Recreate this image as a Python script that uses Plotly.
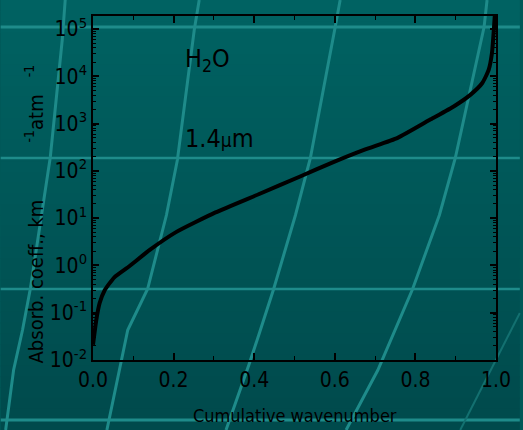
import plotly.graph_objects as go

# ---- data ----
cum_wavenumber = [0.0, 0.008, 0.0165, 0.029, 0.053, 0.090, 0.140, 0.205, 0.304, 0.411,
                  0.514, 0.592, 0.674, 0.756, 0.838, 0.896, 0.937, 0.966, 0.982, 0.990,
                  0.994, 0.997]
abs_coeff = [0.021, 0.069, 0.16, 0.30, 0.56, 0.96, 2.1, 5.0, 13.2, 32,
             76, 148, 282, 500, 1230, 2330, 4100, 7200, 13800, 31000,
             81000, 190000]

x_tick_vals = [0.0, 0.2, 0.4, 0.6, 0.8, 1.0]
x_tick_text = ["0.0", "0.2", "0.4", "0.6", "0.8", "1.0"]
y_tick_vals = [1e-2, 1e-1, 1e0, 1e1, 1e2, 1e3, 1e4, 1e5]
y_tick_text = ["10<sup>-2</sup>", "10<sup>-1</sup>", "10<sup>0</sup>", "10<sup>1</sup>",
               "10<sup>2</sup>", "10<sup>3</sup>", "10<sup>4</sup>", "10<sup>5</sup>"]

W, H = 523, 430
L, R, T, B = 93, 24, 16, 70
FONT = "DejaVu Sans Condensed, Liberation Sans Narrow, Liberation Sans, Arial, sans-serif"

def px(x):
    return (x - L) / (W - L - R)

def py(y):
    return (H - B - y) / (H - T - B)

fig = go.Figure()
fig.add_trace(go.Scatter(x=cum_wavenumber, y=abs_coeff, mode="lines",
                         line=dict(color="black", width=4, shape="spline", smoothing=0.5),
                         showlegend=False, hoverinfo="skip"))

shapes = []
# vertical gradient background (slide decoration)
n = 40
top_rgb = (0, 98, 98)
bot_rgb = (0, 74, 76)
for i in range(n):
    f = i / (n - 1)
    c = tuple(round(top_rgb[k] + (bot_rgb[k] - top_rgb[k]) * f) for k in range(3))
    y0 = i * H / n
    y1 = (i + 1) * H / n + 1
    shapes.append(dict(type="rect", xref="paper", yref="paper", layer="below",
                       x0=px(0), x1=px(W), y0=py(y1), y1=py(y0),
                       fillcolor="rgb(%d,%d,%d)" % c, line=dict(width=0)))

LC = "#1e8b8a"
# horizontal decoration lines
for yy, w in [(27, 3), (158, 2.5), (289, 2.5), (420, 3)]:
    shapes.append(dict(type="line", xref="paper", yref="paper", layer="below",
                       x0=px(0), x1=px(W), y0=py(yy), y1=py(yy),
                       line=dict(color=LC, width=w)))

# curved decoration lines
curves = [
    [(65, 0), (62, 40), (50, 157), (30, 288), (22, 330), (13, 370), (5, 430)],
    [(200, 0), (195, 30), (178, 160), (167, 215), (148, 289), (128, 330), (107, 430)],
    [(342, 0), (337, 27), (312, 158), (297, 215), (275, 289), (260, 335), (250, 365), (227, 430)],
    [(490, 0), (487, 27), (458, 158), (442, 215), (415, 289), (380, 370), (348, 430)],
]
for pts in curves:
    path = "M " + " L ".join("%.5f,%.5f" % (px(a), py(b)) for a, b in pts)
    shapes.append(dict(type="path", xref="paper", yref="paper", layer="below",
                       path=path, line=dict(color=LC, width=3)))
faint = [(523, 313), (463, 430)]
shapes.append(dict(type="path", xref="paper", yref="paper", layer="below",
                   path="M " + " L ".join("%.5f,%.5f" % (px(a), py(b)) for a, b in faint),
                   line=dict(color="#137070", width=2)))

annotations = [
    dict(xref="paper", yref="paper", x=px(184), y=py(60), xanchor="left", yanchor="middle",
         text="H<sub>2</sub>O", showarrow=False, font=dict(family=FONT, size=25, color="black")),
    dict(xref="paper", yref="paper", x=px(184), y=py(138), xanchor="left", yanchor="middle",
         text="1.4<span style='font-size:19px'>μ</span>m", showarrow=False,
         font=dict(family=FONT, size=25, color="black")),
    dict(xref="paper", yref="paper", x=px(34), y=py(214), xanchor="center", yanchor="middle",
         textangle=-90,
         text="Absorb. coeff., km&nbsp;&nbsp;&nbsp;&nbsp;&nbsp;&nbsp;&nbsp;&nbsp;&nbsp;&nbsp;<sup>-1</sup>atm&nbsp;&nbsp;&nbsp;<sup>-1</sup>",
         showarrow=False, font=dict(family=FONT, size=20, color="black")),
    dict(xref="paper", yref="paper", x=px(296), y=py(415), xanchor="center", yanchor="middle",
         text="Cumulative wavenumber", showarrow=False,
         font=dict(family=FONT, size=18, color="black")),
]

fig.update_layout(
    width=W, height=H,
    margin=dict(l=L, r=R, t=T, b=B, pad=0),
    paper_bgcolor="#005858", plot_bgcolor="rgba(0,0,0,0)",
    shapes=shapes, annotations=annotations,
    font=dict(family=FONT, color="black", size=20),
)
fig.update_xaxes(range=[0, 1], tickvals=x_tick_vals, ticktext=x_tick_text,
                 ticks="inside", ticklen=7, tickwidth=1.5, tickcolor="black",
                 minor=dict(ticks="inside", dtick=0.1, ticklen=4, tickcolor="black", tickwidth=1.2),
                 showline=True, linecolor="black", linewidth=1.5, mirror="allticks",
                 showgrid=False, zeroline=False, tickfont=dict(size=21, family=FONT))
fig.update_yaxes(type="log", range=[-2, 5.275], tickvals=y_tick_vals, ticktext=y_tick_text,
                 ticks="inside", ticklen=6, tickwidth=1.5, tickcolor="black",
                 minor=dict(ticks="inside", dtick="D1", ticklen=3, tickcolor="black", tickwidth=1),
                 showline=True, linecolor="black", linewidth=1.5, mirror="allticks",
                 showgrid=False, zeroline=False, tickfont=dict(size=21, family=FONT))

fig.write_html("out.html", config={"displayModeBar": False},
               post_script="document.body.style.margin='0';")
